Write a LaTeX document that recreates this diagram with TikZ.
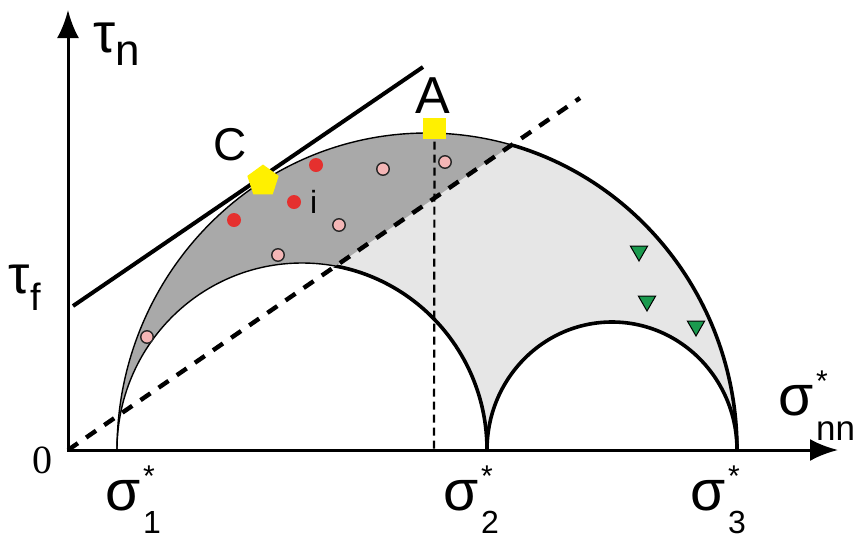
\documentclass[tikz,border=0pt]{standalone}
\usepackage{fontspec}
\setmainfont{Liberation Sans}
\newfontfamily\zerofont{Liberation Serif}
\usetikzlibrary{arrows.meta,shapes.geometric}
\definecolor{dgray}{HTML}{A9A9A9}
\definecolor{lgray}{HTML}{E6E6E6}
\definecolor{yellowc}{HTML}{FFF000}
\definecolor{pinkc}{HTML}{F4B6B6}
\definecolor{redc}{HTML}{E5302E}
\definecolor{greenc}{HTML}{1A9A4E}
\begin{document}
\begin{tikzpicture}[x=1pt,y=-1pt,
  thinarc/.style={line width=1.4pt},
  thickarc/.style={line width=3.6pt},
  axisline/.style={line width=3pt,{Latex[length=28pt,width=22pt]}-{Latex[length=28pt,width=22pt]}},
  dashline/.style={line width=4.4pt,dash pattern=on 12pt off 10pt},
  dashA/.style={line width=2.2pt,dash pattern=on 8pt off 5pt},
  tangline/.style={line width=4pt},
  lbl/.style={inner sep=0pt,outer sep=0pt,anchor=base west},
  reddot/.style={circle,fill=redc,inner sep=0pt,minimum size=14pt},
  pinkdot/.style={circle,fill=pinkc,draw=black!85,line width=1.4pt,inner sep=0pt,minimum size=12.5pt},
  greentri/.style={regular polygon,regular polygon sides=3,shape border rotate=180,fill=greenc,draw=black,line width=1pt,inner sep=0pt,minimum size=20pt},
  pentamark/.style={regular polygon,regular polygon sides=5,fill=yellowc,inner sep=0pt,minimum size=33pt},
  squaremark/.style={rectangle,fill=yellowc,inner sep=0pt,minimum width=23pt,minimum height=21pt}
]
\useasboundingbox (0,0) rectangle (859,539);
\fill[white] (0,0) rectangle (859,539);
% key points
\coordinate (O) at (68,450);
\coordinate (ytip) at (68,10);
\coordinate (xtip) at (838,450);
\coordinate (s1) at (117,450);
\coordinate (s2) at (487,450);
\coordinate (s3) at (737,450);
\coordinate (dashend) at (580,98);
\coordinate (tanA) at (73,306);
\coordinate (tanB) at (423,67);
\coordinate (Afoot) at (434,450);
% regions
\fill[lgray] (s1) arc[start angle=180,end angle=360,x radius=310,y radius=317] -- cycle;
\begin{scope}
  \clip (0,496.75) -- (800,-53.25) -- (0,-53.25) -- cycle;
  \fill[dgray] (s1) arc[start angle=180,end angle=360,x radius=310,y radius=317] -- cycle;
\end{scope}
\fill[white] (s1) arc[start angle=180,end angle=360,x radius=185,y radius=187] -- cycle;
\fill[white] (s2) arc[start angle=180,end angle=360,x radius=125,y radius=128] -- cycle;
% outlines
\draw[thinarc] (s1) arc[start angle=180,end angle=360,x radius=310,y radius=317];
\draw[thinarc] (s1) arc[start angle=180,end angle=360,x radius=185,y radius=187];
\begin{scope}
  \clip (200,359.25) -- (800,-53.25) -- (900,-53.25) -- (900,600) -- (200,600) -- cycle;
  \draw[thickarc] (s1) arc[start angle=180,end angle=360,x radius=310,y radius=317];
  \draw[thickarc] (s1) arc[start angle=180,end angle=360,x radius=185,y radius=187];
\end{scope}
\draw[thickarc] (s2) arc[start angle=180,end angle=360,x radius=125,y radius=128];
% lines
\draw[dashline] (O) -- (dashend);
\draw[tangline] (tanA) -- (tanB);
\node[squaremark] (Amark) at (434.5,128.5) {};
\draw[dashA] (Amark.center) -- (Afoot);
\node[squaremark] at (Amark) {};
\draw[axisline] (ytip) -- (O) -- (xtip);
% markers
\node[pentamark] (Cmark) at (263,181) {};
\node[reddot] (r1) at (316,165) {};
\node[reddot] (r2) at (294,202) {};
\node[reddot] (r3) at (234,220) {};
\node[pinkdot] (p1) at (383,169) {};
\node[pinkdot] (p2) at (445,162) {};
\node[pinkdot] (p3) at (339,225) {};
\node[pinkdot] (p4) at (278,255) {};
\node[pinkdot] (p5) at (147,337) {};
\node[greentri] (g1) at (639,251) {};
\node[greentri] (g2) at (647,301) {};
\node[greentri] (g3) at (696,326) {};
% labels
\node[lbl] (taun) at (93,52) {\fontsize{56}{60}\selectfont τ\raisebox{-13pt}{\fontsize{44}{48}\selectfont n}};
\node[lbl] (tauf) at (9,293) {\fontsize{54}{60}\selectfont τ\raisebox{-17pt}{\fontsize{38}{40}\selectfont f}};
\node[lbl] (zero) at (32,473) {\zerofont\fontsize{40}{44}\selectfont 0};
\node[lbl] (Clbl) at (213,160) {\fontsize{46}{50}\selectfont C};
\node[lbl] (Albl) at (415,113) {\fontsize{52}{56}\selectfont A};
\node[lbl] (ilbl) at (310,213) {\fontsize{32}{36}\selectfont i};
\node[lbl] (sig1) at (105,510) {\fontsize{57}{60}\selectfont σ\kern3pt\rlap{\raisebox{24pt}{\fontsize{30}{30}\selectfont *}}\raisebox{-23pt}{\fontsize{32}{32}\selectfont 1}};
\node[lbl] (sig2) at (443,510) {\fontsize{57}{60}\selectfont σ\kern3pt\rlap{\raisebox{24pt}{\fontsize{30}{30}\selectfont *}}\raisebox{-23pt}{\fontsize{32}{32}\selectfont 2}};
\node[lbl] (sig3) at (690,510) {\fontsize{57}{60}\selectfont σ\kern3pt\rlap{\raisebox{24pt}{\fontsize{30}{30}\selectfont *}}\raisebox{-23pt}{\fontsize{32}{32}\selectfont 3}};
\node[lbl] (signn) at (778,415) {\fontsize{57}{60}\selectfont σ\kern3pt\rlap{\raisebox{24pt}{\fontsize{30}{30}\selectfont *}}\raisebox{-25pt}{\fontsize{35}{36}\selectfont nn}};
\end{tikzpicture}
\end{document}
